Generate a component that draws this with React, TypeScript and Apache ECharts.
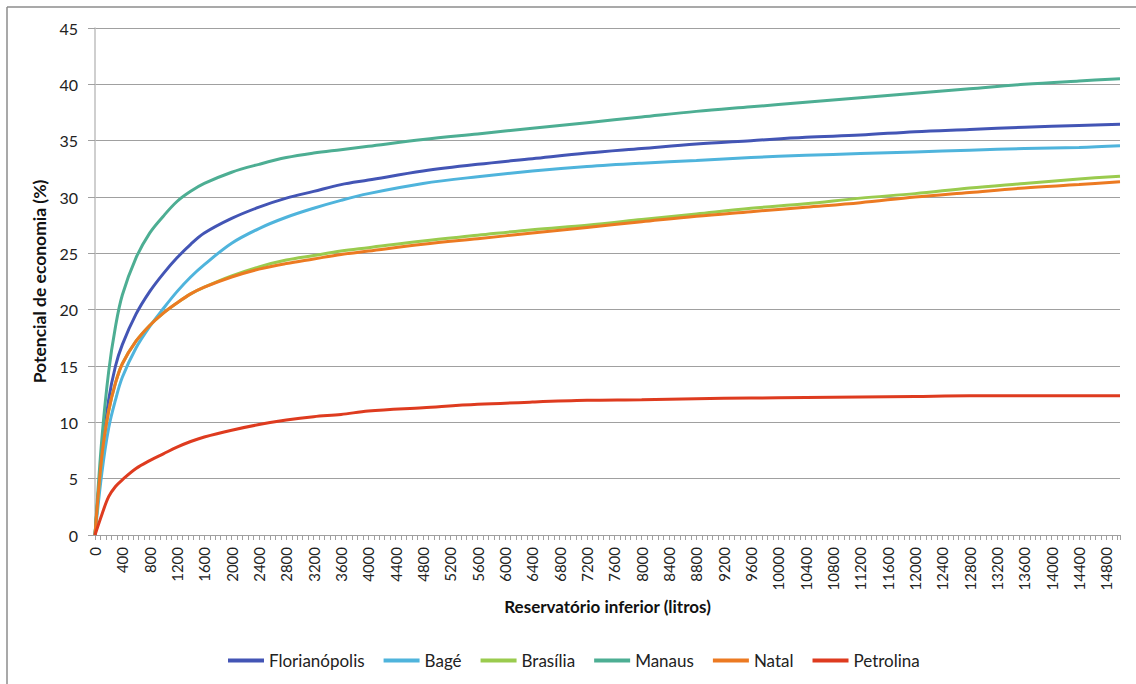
import React, { useEffect, useRef } from "react";
import * as echarts from "echarts";

// Reservoir volume (litres) at which each curve is sampled
const volumes = [
  0, 100, 200, 300, 400, 600, 800, 1000, 1200, 1400, 1600, 2000, 2400, 2800, 3200, 3600, 4000,
  4800, 5600, 6400, 7200, 8000, 8800, 9600, 10400, 11200, 12000, 12800, 13600, 14400, 15000,
];

// Potable water savings potential (%) per city
const florianopolis = [
  0, 7, 12, 15.0, 16.9, 19.6, 21.6, 23.2, 24.6, 25.8, 26.8, 28.1, 29.1, 29.9, 30.5, 31.1, 31.5,
  32.3, 32.9, 33.4, 33.9, 34.3, 34.7, 35.0, 35.3, 35.5, 35.8, 36.0, 36.2, 36.35, 36.45,
];
const bage = [
  0, 5.5, 9.5, 12, 14, 16.6, 18.5, 20.1, 21.6, 22.9, 24.0, 25.9, 27.2, 28.2, 29.0, 29.7, 30.3,
  31.2, 31.8, 32.3, 32.7, 33.0, 33.25, 33.5, 33.7, 33.85, 34.0, 34.15, 34.3, 34.4, 34.55,
];
const brasilia = [
  0, 7, 11, 13.5, 15.2, 17.2, 18.6, 19.7, 20.6, 21.4, 22.0, 23.0, 23.8, 24.4, 24.8, 25.2, 25.5,
  26.1, 26.6, 27.1, 27.5, 28.0, 28.5, 29.0, 29.4, 29.9, 30.3, 30.8, 31.2, 31.6, 31.85,
];
const manaus = [
  0, 8.5, 14.5, 18.5, 21.3, 24.6, 26.8, 28.3, 29.6, 30.5, 31.2, 32.2, 32.9, 33.5, 33.9, 34.2, 34.5,
  35.1, 35.6, 36.1, 36.6, 37.1, 37.6, 38.0, 38.4, 38.8, 39.2, 39.6, 40.0, 40.3, 40.5,
];
const natal = [
  0, 7, 11, 13.5, 15.2, 17.2, 18.6, 19.7, 20.6, 21.4, 22.0, 22.9, 23.6, 24.1, 24.5, 24.9, 25.2,
  25.8, 26.3, 26.8, 27.3, 27.8, 28.3, 28.7, 29.1, 29.5, 30.0, 30.4, 30.8, 31.1, 31.35,
];
const petrolina = [
  0, 1.8, 3.4, 4.3, 4.9, 5.9, 6.6, 7.2, 7.8, 8.3, 8.7, 9.3, 9.8, 10.2, 10.5, 10.7, 11.0,
  11.3, 11.6, 11.8, 11.95, 12.0, 12.1, 12.15, 12.2, 12.25, 12.3, 12.35, 12.35, 12.35, 12.35,
];

const cities = [
  { name: "Florianópolis", values: florianopolis, color: "#4355b5" },
  { name: "Bagé", values: bage, color: "#4fb4dc" },
  { name: "Brasília", values: brasilia, color: "#9acb4e" },
  { name: "Manaus", values: manaus, color: "#4dae93" },
  { name: "Natal", values: natal, color: "#ec7a22" },
  { name: "Petrolina", values: petrolina, color: "#de3b1f" },
];

const FONT = "Lato, 'Noto Sans', sans-serif";

export default function App() {
  const ref = useRef<HTMLDivElement>(null);

  useEffect(() => {
    if (!ref.current) return;
    const chart = echarts.init(ref.current, undefined, { renderer: "svg" });
    chart.setOption({
      animation: false,
      backgroundColor: "#ffffff",
      textStyle: { fontFamily: FONT },
      graphic: [
        {
          type: "line",
          shape: { x1: 7, y1: 7, x2: 1136, y2: 7 },
          style: { stroke: "#8c8c8c", lineWidth: 1.5 },
        },
        {
          type: "line",
          shape: { x1: 7, y1: 7, x2: 7, y2: 684 },
          style: { stroke: "#8c8c8c", lineWidth: 1.5 },
        },
      ],
      grid: { left: 95, right: 16, top: 28, bottom: 149, containLabel: false },
      legend: {
        left: 223,
        top: 647,
        icon: "rect",
        itemWidth: 36,
        itemHeight: 4,
        itemGap: 19,
        textStyle: { fontFamily: FONT, fontSize: 17, color: "#222" },
        data: cities.map((c) => c.name),
      },
      xAxis: {
        type: "value",
        min: 0,
        max: 15000,
        interval: 400,
        name: "Reservatório inferior (litros)",
        nameLocation: "middle",
        nameGap: 62,
        nameTextStyle: { fontFamily: FONT, fontSize: 17, fontWeight: "bold", color: "#111" },
        axisLine: { lineStyle: { color: "#a0a0a0", width: 1 } },
        axisTick: { show: true, length: 5, lineStyle: { color: "#a0a0a0" } },
        minorTick: { show: true, splitNumber: 5, length: 5, lineStyle: { color: "#a0a0a0" } },
        splitLine: { show: false },
        axisLabel: {
          rotate: 90,
          fontSize: 15,
          margin: 12,
          color: "#222",
          fontFamily: FONT,
          showMaxLabel: false,
          formatter: (v: number) => String(v),
        },
      },
      yAxis: {
        type: "value",
        min: 0,
        max: 45,
        interval: 5,
        name: "Potencial de economia (%)",
        nameLocation: "middle",
        nameRotate: 90,
        nameGap: 43,
        nameTextStyle: { fontFamily: FONT, fontSize: 17.5, fontWeight: "bold", color: "#111" },
        axisLine: { show: true, lineStyle: { color: "#bfbfbf", width: 1.5 } },
        axisTick: { show: true, length: 7, lineStyle: { color: "#a0a0a0" } },
        splitLine: { show: true, lineStyle: { color: "#a0a0a0", width: 1 } },
        axisLabel: { fontSize: 16, margin: 17, color: "#222", fontFamily: FONT },
      },
      series: cities.map((c) => ({
        name: c.name,
        type: "line",
        data: volumes.map((v, i) => [v, c.values[i]]),
        showSymbol: false,
        smooth: 0.35,
        lineStyle: { color: c.color, width: 3 },
        itemStyle: { color: c.color },
        emphasis: { disabled: true },
      })),
    });
    return () => chart.dispose();
  }, []);

  return (
    <div
      ref={ref}
      style={{ position: "absolute", left: 0, top: 0, width: 1136, height: 684 }}
    />
  );
}
